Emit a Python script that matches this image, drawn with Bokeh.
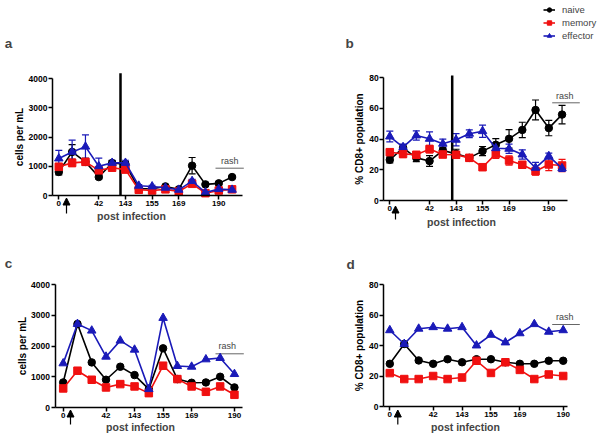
from bokeh.plotting import figure
from bokeh.layouts import column, row
from bokeh.models import (ColumnDataSource, FixedTicker, Whisker, TeeHead, Arrow,
                          NormalHead, Label, Legend, LegendItem, Range1d)
from bokeh.embed import file_html
from bokeh.resources import INLINE
from bokeh.core.properties import value

# ---------------- data ----------------
tick_idx = [0, 3, 5, 7, 9, 12]
tick_labels = ["0", "42", "143", "155", "169", "190"]
series_names = ["naive", "memory", "effector"]

x_ab = list(range(14))
x_cd = list(range(13))

# panel a: cells per mL (mean +/- error)
naive_a = [805, 1490, 1150, 630, 1110, 1070, 230, 230, 310, 210, 1020, 380, 415, 630]
memory_a = [980, 1115, 1150, 860, 950, 885, 195, 170, 210, 140, 400, 80, 170, 210]
effector_a = [1265, 1490, 1670, 1000, 1115, 1115, 333, 310, 265, 195, 494, 103, 218, 195]
naive_err_a = [100, 250, 120, 60, 80, 80, 40, 30, 40, 30, 280, 30, 30, 40]
memory_err_a = [120, 130, 100, 80, 60, 60, 40, 30, 30, 30, 50, 20, 30, 30]
effector_err_a = [280, 400, 400, 280, 90, 90, 40, 40, 40, 30, 60, 20, 30, 30]

# panel b: % CD8+ population (mean +/- error)
naive_b = [26.5, 34.3, 27.8, 25.7, 32.6, 30.4, 27.8, 32.2, 36.3, 40.2, 46.0, 59.0, 47.2, 56.0]
memory_b = [31.5, 30.4, 29.8, 33.5, 30.0, 29.8, 27.8, 21.7, 30.4, 26.1, 23.3, 19.1, 23.5, 22.8]
effector_b = [41.7, 34.8, 42.4, 40.2, 37.0, 39.6, 43.5, 45.2, 34.1, 33.7, 30.0, 21.3, 28.9, 21.0]
naive_err_b = [2, 2, 2.5, 3.5, 2, 3, 2, 3, 4, 6, 5, 6.5, 5, 6]
memory_err_b = [2, 2.5, 2, 2.5, 2, 2, 2, 1.5, 3, 3, 2, 2.5, 4, 4]
effector_err_b = [3.5, 2, 3, 4.5, 3, 4, 2.5, 4, 3, 3, 3, 3.5, 2, 2]

# panel c: cells per mL
naive_c = [815, 2717, 1467, 902, 1326, 1054, 598, 1924, 924, 804, 815, 1000, 652]
memory_c = [620, 1196, 902, 652, 761, 685, 467, 1359, 924, 685, 511, 685, 413]
effector_c = [1435, 2717, 2500, 1652, 2174, 1880, 598, 2913, 1348, 1326, 1565, 1609, 1087]

# panel d: % CD8+ population
naive_d = [28, 41, 30.2, 28, 31, 29, 31, 31, 29, 28, 28, 30, 30]
memory_d = [21.9, 18, 18, 20, 18, 19, 30, 22, 29, 24, 18, 21, 20]
effector_d = [50, 41, 51, 52, 51, 52, 40, 47, 42, 48, 54, 49, 50]

cells_ticks = [0, 1000, 2000, 3000, 4000]
pct_ticks = [0, 20, 40, 60, 80]

# ---------------- layout / style (pixel positions on the page) ----------------
FONT = "Liberation Sans"
COLORS = {"naive": "#000000", "memory": "#f01010", "effector": "#1a1ab8"}
MARKERS = {"naive": "circle", "memory": "square", "effector": "triangle"}
SIZES = {"naive": 7.5, "memory": 7.5, "effector": 8.5}

# box (x0, y0, w, h), mapping (px of idx 0, px per idx, px of y=0, px per unit)
PANELS = {
    "a": dict(box=(0, 0, 300, 245), map=(58.3, 13.33, 195, 0.02925),
              axis_x=(52, 242), axis_ymax=4000, ticks=cells_ticks, ylabel="cells per mL",
              letter=(8, 42.5), xlabel=(131, 215), arrow=(66, 197.5, 213),
              rash=(215, 243.3, 167.7), rash_text=(229.3, 160), vline=(120, 72.7)),
    "b": dict(box=(300, 0, 300, 245), map=(389.3, 13.25, 200, 1.534),
              axis_x=(383.3, 566.7), axis_ymax=80, ticks=pct_ticks, ylabel="% CD8+ population",
              letter=(349, 42.5), xlabel=(461, 221), arrow=(395, 205.5, 219),
              rash=(551.7, 579.3, 102.3), rash_text=(564.3, 95), vline=(451.7, 75)),
    "c": dict(box=(0, 245, 300, 191), map=(62.7, 14.27, 407, 0.03075),
              axis_x=(54.5, 242), axis_ymax=4000, ticks=cells_ticks, ylabel="cells per mL",
              letter=(8, 263), xlabel=(140, 426), arrow=(70, 409.5, 424),
              rash=(215, 243.3, 353.3), rash_text=(226.7, 345.7), vline=None),
    "d": dict(box=(300, 245, 300, 191), map=(389.3, 14.45, 406, 1.525),
              axis_x=(383, 567), axis_ymax=80, ticks=pct_ticks, ylabel="% CD8+ population",
              letter=(350, 264), xlabel=(465, 426.5), arrow=(397.3, 409.5, 424),
              rash=(551.7, 579.3, 324), rash_text=(564.3, 316), vline=None),
}


def make_panel(key):
    cfg = PANELS[key]
    X0, Y0, W, H = cfg["box"]
    ix0, pxi, zy, pxu = cfg["map"]

    def dx(px):
        return (px - ix0) / pxi

    def dy(py):
        return (zy - py) / pxu

    p = figure(width=W, height=H, x_range=Range1d(dx(X0), dx(X0 + W)),
               y_range=Range1d(dy(Y0 + H), dy(Y0)), output_backend="svg",
               toolbar_location=None, min_border=0)
    p.title.visible = False
    p.grid.visible = False
    p.outline_line_color = None
    xa, ya = p.xaxis[0], p.yaxis[0]
    ax0, ax1 = dx(cfg["axis_x"][0]), dx(cfg["axis_x"][1])
    xa.fixed_location = 0
    ya.fixed_location = ax0
    xa.bounds = (ax0, ax1)
    ya.bounds = (0, cfg["axis_ymax"])
    xa.ticker = FixedTicker(ticks=tick_idx)
    xa.major_label_overrides = {i: s for i, s in zip(tick_idx, tick_labels)}
    ya.ticker = FixedTicker(ticks=cfg["ticks"])
    for ax in (xa, ya):
        ax.axis_line_width = 1.5
        ax.axis_line_color = "black"
        ax.major_tick_line_width = 1.5
        ax.major_tick_line_color = "black"
        ax.major_tick_out = 4
        ax.major_tick_in = 0
        ax.minor_tick_line_color = None
        ax.major_label_text_font = FONT
        ax.major_label_text_font_style = "bold"
        ax.major_label_text_color = "black"
    xa.major_label_text_font_size = "8px"
    ya.major_label_text_font_size = "8.5px"
    xa.major_label_standoff = 1
    ya.major_label_standoff = 1
    ya.axis_label = cfg["ylabel"]
    ya.axis_label_text_font = FONT
    ya.axis_label_text_font_style = "bold"
    ya.axis_label_text_font_size = "10px"
    ya.axis_label_text_color = "black"
    ya.axis_label_standoff = 1

    # vertical line
    if cfg["vline"] is not None:
        vx, vtop = cfg["vline"]
        p.segment(x0=[dx(vx)], y0=[0], x1=[dx(vx)], y1=[dy(vtop)],
                  line_color="black", line_width=2.5)
    # arrow below the axis
    arx, head, tail = cfg["arrow"]
    p.add_layout(Arrow(end=NormalHead(size=7, fill_color="black", line_color="black", line_width=1),
                       x_start=dx(arx), y_start=dy(tail), x_end=dx(arx), y_end=dy(head),
                       line_color="black", line_width=1.2))
    # rash marker
    r0, r1, ry = cfg["rash"]
    p.segment(x0=[dx(r0)], y0=[dy(ry)], x1=[dx(r1)], y1=[dy(ry)],
              line_color="#666666", line_width=1)
    tx, ty = cfg["rash_text"]
    p.text(x=[dx(tx)], y=[dy(ty)], text=["rash"], text_font=value(FONT),
           text_font_size=value("9px"), text_align="center", text_baseline="middle",
           text_color="#444444")
    # panel letter
    lx, ly = cfg["letter"]
    p.add_layout(Label(x=dx(lx), y=dy(ly), text=key, text_font=FONT, text_font_size="13.5px",
                       text_font_style="bold", text_align="center", text_baseline="middle"))
    # x axis title
    qx, qy = cfg["xlabel"]
    p.add_layout(Label(x=dx(qx), y=dy(qy), text="post infection", text_font=FONT,
                       text_font_size="10.5px", text_font_style="bold",
                       text_align="center", text_baseline="middle"))
    return p


def draw_series(p, x, values, errors=None):
    rends = {}
    for i, name in enumerate(series_names):
        y = values[i]
        c = COLORS[name]
        data = dict(x=x, y=y)
        if errors is not None:
            e = errors[i]
            data["up"] = [v + d for v, d in zip(y, e)]
            data["lo"] = [v - d for v, d in zip(y, e)]
        src = ColumnDataSource(data)
        if errors is not None:
            w = Whisker(source=src, base="x", upper="up", lower="lo", line_color=c,
                        line_width=1.2,
                        upper_head=TeeHead(size=7, line_color=c, line_width=1.2),
                        lower_head=TeeHead(size=7, line_color=c, line_width=1.2))
            p.add_layout(w)
        ln = p.line("x", "y", source=src, line_color=c, line_width=1.6)
        sc = p.scatter("x", "y", source=src, marker=MARKERS[name], size=SIZES[name],
                       fill_color=c, line_color=c)
        rends[name] = (ln, sc)
    return rends


pa = make_panel("a")
pb = make_panel("b")
pc = make_panel("c")
pd_ = make_panel("d")

draw_series(pa, x_ab, [naive_a, memory_a, effector_a], [naive_err_a, memory_err_a, effector_err_a])
rb = draw_series(pb, x_ab, [naive_b, memory_b, effector_b], [naive_err_b, memory_err_b, effector_err_b])
draw_series(pc, x_cd, [naive_c, memory_c, effector_c])
draw_series(pd_, x_cd, [naive_d, memory_d, effector_d])

# legend at the top right (location = bottom-left corner, relative to panel b)
legend = Legend(items=[LegendItem(label=n, renderers=list(rb[n])) for n in series_names],
                location=(243, 245 - 41))
legend.padding = 0
legend.margin = 0
legend.spacing = 2
legend.label_height = 11
legend.glyph_height = 11
legend.glyph_width = 12
legend.label_standoff = 7
legend.label_text_font = FONT
legend.label_text_font_size = "9.5px"
legend.background_fill_alpha = 0
legend.border_line_alpha = 0
pb.add_layout(legend)

layout = column(row(pa, pb), row(pc, pd_))
open("out.html", "w").write(file_html(layout, INLINE))
